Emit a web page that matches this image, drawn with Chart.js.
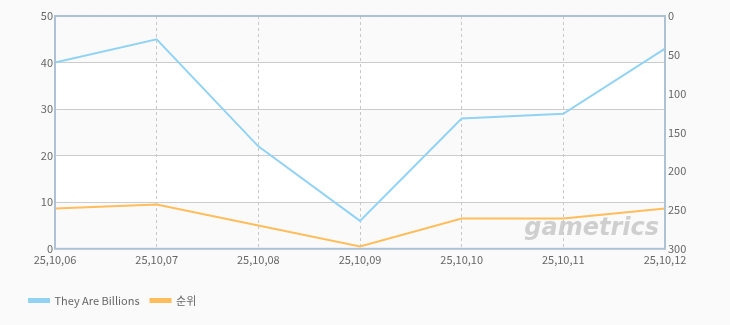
<!DOCTYPE html>
<html>
<head>
<meta charset="utf-8">
<script src="https://cdn.jsdelivr.net/npm/chart.js@4/dist/chart.umd.min.js"></script>
<style>
  html, body { margin: 0; padding: 0; background: #fafafa; }
  #wrap { width: 730px; height: 325px; }
</style>
</head>
<body>
<div id="wrap"><canvas id="chart"></canvas></div>
<script>
// 날짜
const labels = ['25,10,06', '25,10,07', '25,10,08', '25,10,09', '25,10,10', '25,10,11', '25,10,12'];
// 값 (왼쪽 축)
const players = [40, 45, 22, 6, 28, 29, 43];
// 순위 (오른쪽 축, 뒤집힘)
const rank = [248, 243, 270, 297, 261, 261, 248];

const FONT = "'Noto Sans CJK KR', 'DejaVu Sans', sans-serif";

// 배경 띠 + 테두리 + 워터마크
const decor = {
  id: 'decor',
  beforeDraw(chart) {
    const { ctx, chartArea: a, scales } = chart;
    ctx.save();
    ctx.fillStyle = '#ffffff';
    ctx.fillRect(a.left, a.top, a.right - a.left, a.bottom - a.top);
    const y = scales.y;
    ctx.fillStyle = '#fafafa';
    for (let v = 0; v < 50; v += 20) {
      const y1 = y.getPixelForValue(v), y2 = y.getPixelForValue(v + 10);
      ctx.fillRect(a.left, y2, a.right - a.left, y1 - y2);
    }
    ctx.font = "italic bold 24px 'DejaVu Sans', sans-serif";
    ctx.fillStyle = '#cfcfcf';
    ctx.textAlign = 'right';
    ctx.textBaseline = 'bottom';
    ctx.fillText('gametrics', a.right - 6, a.bottom - 8);
    ctx.restore();
  },
  afterDraw(chart) {
    const { ctx, chartArea: a } = chart;
    ctx.save();
    ctx.strokeStyle = '#aec2d6';
    ctx.lineWidth = 2;
    ctx.strokeRect(a.left, a.top, a.right - a.left, a.bottom - a.top);
    ctx.restore();
  }
};

new Chart(document.getElementById('chart'), {
  type: 'line',
  data: {
    labels: labels,
    datasets: [
      {
        label: 'They Are Billions',
        data: players,
        borderColor: '#92d3f3',
        backgroundColor: '#92d3f3',
        borderWidth: 2,
        pointRadius: 0,
        tension: 0,
        yAxisID: 'y'
      },
      {
        label: '순위',
        data: rank,
        borderColor: '#ffbd5c',
        backgroundColor: '#ffbd5c',
        borderWidth: 2,
        pointRadius: 0,
        tension: 0,
        yAxisID: 'y1'
      }
    ]
  },
  options: {
    responsive: true,
    maintainAspectRatio: false,
    animation: false,
    layout: { padding: { left: 18, right: 10, top: 16, bottom: 9 } },
    plugins: {
      legend: {
        position: 'bottom',
        align: 'start',
        labels: {
          boxWidth: 20,
          boxHeight: 3,
          color: '#666',
          font: { family: FONT, size: 11 },
          padding: 11
        }
      },
      tooltip: { enabled: false }
    },
    scales: {
      x: {
        offset: false,
        grid: { color: '#c8c8c8', drawTicks: false, tickBorderDash: [3, 3] },
        border: { display: false, dash: [3, 3] },
        ticks: { color: '#666', font: { family: FONT, size: 11 }, padding: 4, maxRotation: 0 },
        afterFit(s) { s.height += 14; }
      },
      y: {
        position: 'left',
        min: 0, max: 50,
        ticks: { stepSize: 10, color: '#666', font: { family: FONT, size: 11 }, padding: 2 },
        grid: { color: '#cccccc', drawTicks: false },
        border: { display: false },
        afterFit(s) { s.width = 37; }
      },
      y1: {
        position: 'right',
        min: 0, max: 300,
        reverse: true,
        ticks: { stepSize: 50, color: '#666', font: { family: FONT, size: 11 }, padding: 3 },
        grid: { display: false, drawTicks: false },
        border: { display: false },
        afterFit(s) { s.width = 55; }
      }
    }
  },
  plugins: [decor]
});
</script>
</body>
</html>
